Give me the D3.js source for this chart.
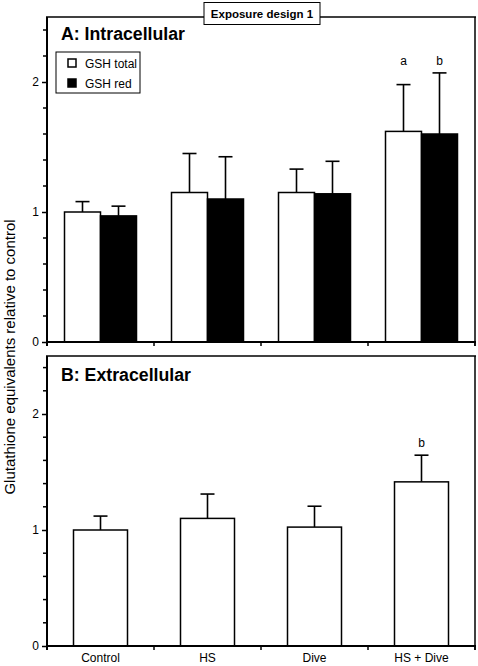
<!DOCTYPE html>
<html><head><meta charset="utf-8">
<script src="https://cdn.jsdelivr.net/npm/d3@7"></script>
<style>
body{margin:0;background:#fff;}
svg{display:block;font-family:"Liberation Sans",Arial,Helvetica,sans-serif;}
</style></head>
<body>
<svg id="c" width="478" height="666"></svg>
<script>
const categories = ["Control", "HS", "Dive", "HS + Dive"];
const seriesNames = ["GSH total", "GSH red"];
const intraTotal = [1.00, 1.15, 1.15, 1.62];
const intraTotalErr = [0.08, 0.30, 0.18, 0.36];
const intraRed = [0.97, 1.10, 1.14, 1.60];
const intraRedErr = [0.075, 0.325, 0.25, 0.47];
const intraLabels = ["", "", "", "a"];
const intraRedLabels = ["", "", "", "b"];
const extraTotal = [1.00, 1.10, 1.025, 1.415];
const extraTotalErr = [0.12, 0.21, 0.18, 0.23];
const extraLabels = ["", "", "", "b"];
const yTickLabels = [0, 1, 2];

const svg = d3.select("#c");
const left = 47, right = 475;
const x = d3.scaleBand().domain(categories).range([left, right]).padding(0);

function panel(top, bottom, title, titleY, titleW, groups, singleWidth) {
  const y = d3.scaleLinear().domain([0, 2.5]).range([bottom, top]);
  const g = svg.append("g");
  const yAxis = d3.axisLeft(y).tickValues(yTickLabels).tickSize(5).tickPadding(3).tickFormat(d3.format("d"));
  const ya = g.append("g").attr("transform", `translate(${left},0)`).call(yAxis);
  ya.select(".domain").remove();
  ya.selectAll(".tick line").attr("stroke-width", 1.5);
  ya.selectAll(".tick text").style("font-size", "12px").attr("fill", "#000");
  const minor = d3.range(0.2, 2.5, 0.2).filter(v => Math.abs(v - Math.round(v)) > 0.01);
  g.selectAll(".minor").data(minor).enter().append("line")
    .attr("x1", left - 4).attr("x2", left).attr("y1", d => y(d)).attr("y2", d => y(d))
    .attr("stroke", "#000").attr("stroke-width", 1.5);
  const bounds = categories.map(c => x(c)).concat([right]);
  g.selectAll(".xt").data(bounds).enter().append("line")
    .attr("x1", d => d).attr("x2", d => d).attr("y1", bottom).attr("y2", bottom + 4)
    .attr("stroke", "#000").attr("stroke-width", 1.5);

  const bw = x.bandwidth();
  categories.forEach((c, i) => {
    const groupMax = d3.max(groups, s => s.values[i] + s.err[i]);
    groups.forEach((s, si) => {
      const cx = x(c) + bw / 2;
      let x0, w;
      if (singleWidth) { w = singleWidth; x0 = cx - w / 2; }
      else { w = 36; x0 = si === 0 ? cx - w : cx; }
      const v = s.values[i], e = s.err[i];
      const mid = x0 + w / 2;
      g.append("line").attr("x1", mid).attr("x2", mid).attr("y1", y(v)).attr("y2", y(v + e))
        .attr("stroke", "#000").attr("stroke-width", 1.6);
      g.append("line").attr("x1", mid - 7).attr("x2", mid + 7).attr("y1", y(v + e)).attr("y2", y(v + e))
        .attr("stroke", "#000").attr("stroke-width", 1.6);
      g.append("rect").attr("x", x0).attr("y", y(v)).attr("width", w).attr("height", y(0) - y(v))
        .attr("fill", s.fill).attr("stroke", "#000").attr("stroke-width", 1.5);
      if (s.labels[i]) {
        g.append("text").attr("x", mid).attr("y", y(groupMax) - 8).attr("text-anchor", "middle")
          .style("font-size", "12px").text(s.labels[i]);
      }
    });
  });
  g.append("line").attr("x1", left).attr("x2", left).attr("y1", top).attr("y2", bottom + 4)
    .attr("stroke", "#000").attr("stroke-width", 2);
  g.append("line").attr("x1", left - 1).attr("x2", right + 1).attr("y1", bottom).attr("y2", bottom)
    .attr("stroke", "#000").attr("stroke-width", 2);
  g.append("line").attr("x1", right).attr("x2", right).attr("y1", top).attr("y2", bottom + 4)
    .attr("stroke", "#000").attr("stroke-width", 1.5);
  g.append("line").attr("x1", left - 1).attr("x2", right + 1).attr("y1", top).attr("y2", top)
    .attr("stroke", "#000").attr("stroke-width", 1.5);
  g.append("text").attr("x", 61).attr("y", titleY).style("font-size", "18px").style("font-weight", "bold")
    .attr("textLength", titleW).attr("lengthAdjust", "spacingAndGlyphs")
    .text(title);
  return y;
}

panel(17, 342, "A: Intracellular", 40, 124, [
  {values: intraTotal, err: intraTotalErr, fill: "#fff", labels: intraLabels},
  {values: intraRed, err: intraRedErr, fill: "#000", labels: intraRedLabels}
], null);
panel(356, 646, "B: Extracellular", 381, 130, [
  {values: extraTotal, err: extraTotalErr, fill: "#fff", labels: extraLabels}
], 54);

svg.selectAll(".xl").data(categories).enter().append("text")
  .attr("x", d => x(d) + x.bandwidth() / 2).attr("y", 662).attr("text-anchor", "middle")
  .style("font-size", "12px").text(d => d);

const lg = svg.append("g");
lg.append("rect").attr("x", 56).attr("y", 52).attr("width", 84).attr("height", 41)
  .attr("fill", "#fff").attr("stroke", "#000").attr("stroke-width", 1);
seriesNames.forEach((n, i) => {
  lg.append("rect").attr("x", 68).attr("y", 59 + i * 20).attr("width", 8).attr("height", 8)
    .attr("fill", i === 0 ? "#fff" : "#000").attr("stroke", "#000").attr("stroke-width", 1.5);
  lg.append("text").attr("x", 85).attr("y", 67.5 + i * 20).style("font-size", "12px").text(n);
});

svg.append("rect").attr("x", 204).attr("y", 2.5).attr("width", 116).attr("height", 22)
  .attr("fill", "#fff").attr("stroke", "#000").attr("stroke-width", 1);
svg.append("text").attr("x", 262).attr("y", 18).attr("text-anchor", "middle")
  .style("font-size", "11.5px").style("font-weight", "bold").text("Exposure design 1");

svg.append("text").attr("transform", "translate(15,357) rotate(-90)").attr("text-anchor", "middle")
  .style("font-size", "15px").text("Glutathione equivalents relative to control");
</script>
</body></html>
